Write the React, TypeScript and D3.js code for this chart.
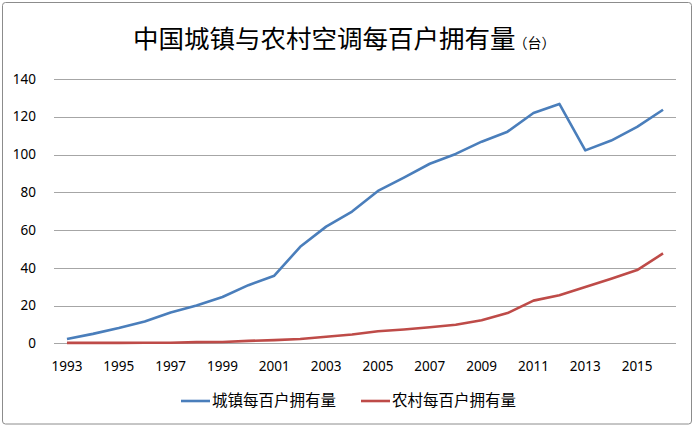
import React from "react";
import * as d3 from "d3";

const years = ["1993","1994","1995","1996","1997","1998","1999","2000","2001","2002","2003","2004","2005","2006","2007","2008","2009","2010","2011","2012","2013","2014","2015","2016"];
const urban = [2.3,5.0,8.1,11.6,16.3,20.0,24.5,30.8,35.8,51.1,61.8,69.8,80.7,87.8,95.1,100.3,106.8,112.1,122.0,126.8,102.2,107.4,114.6,123.7];
const rural = [0.2,0.2,0.2,0.3,0.3,0.6,0.7,1.3,1.7,2.3,3.5,4.7,6.4,7.3,8.5,9.8,12.2,16.0,22.6,25.4,29.8,34.2,38.8,47.6];
const yTicks = [0,20,40,60,80,100,120,140];
const seriesNames = ["城镇每百户拥有量","农村每百户拥有量"];
const colors = ["#4a7ebb","#be4b48"];

const W = 694, H = 427;
const plotLeft = 54, plotRight = 676, plotTop = 79, plotBottom = 343.3;

export default function App() {
  const x = d3.scaleBand().domain(years).range([plotLeft, plotRight]);
  const xc = (y: string) => (x(y) as number) + x.bandwidth() / 2;
  const yS = d3.scaleLinear().domain([0, 140]).range([plotBottom, plotTop]);
  const line = d3.line<number>().x((_, i) => xc(years[i])).y((d) => yS(d));
  const font = "'Noto Sans', 'Noto Sans CJK SC', sans-serif";
  const cjk = "'Noto Sans CJK SC', sans-serif";
  return (
    <svg width={W} height={H} style={{ position: "absolute", left: 0, top: 0, background: "#fff" }}>
      <rect x={2.5} y={2.5} width={689} height={421.5} rx={3} fill="#fff" stroke="#8c8c8c" strokeWidth={1} />
      <text x={133} y={48} fontFamily={cjk} fontSize={25.5} fill="#000">
        中国城镇与农村空调每百户拥有量
        <tspan fontSize={14} dx={-2}>（台）</tspan>
      </text>
      {yTicks.map((t) => (
        <g key={t}>
          <line x1={plotLeft} x2={plotRight} y1={Math.round(yS(t)) + 0.5} y2={Math.round(yS(t)) + 0.5} stroke="#a6a6a6" strokeWidth={1} />
          <text x={36} y={yS(t)} dy="0.35em" textAnchor="end" fontFamily={font} fontSize={13.5} fill="#000">{t}</text>
        </g>
      ))}
      {years.map((yr, i) => i % 2 === 0 ? (
        <text key={yr} x={xc(yr)} y={366} dy="0.35em" textAnchor="middle" fontFamily={font} fontSize={13.5} fill="#000">{yr}</text>
      ) : null)}
      <path d={line(urban) || ""} fill="none" stroke={colors[0]} strokeWidth={2.6} strokeLinejoin="round" />
      <path d={line(rural) || ""} fill="none" stroke={colors[1]} strokeWidth={2.6} strokeLinejoin="round" />
      {seriesNames.map((n, i) => {
        const lx = 181 + i * 180;
        return (
          <g key={n}>
            <line x1={lx} x2={lx + 29} y1={401} y2={401} stroke={colors[i]} strokeWidth={2.6} />
            <text x={lx + 31} y={401} dy="0.35em" fontFamily={cjk} fontSize={15.5} fill="#000">{n}</text>
          </g>
        );
      })}
    </svg>
  );
}
